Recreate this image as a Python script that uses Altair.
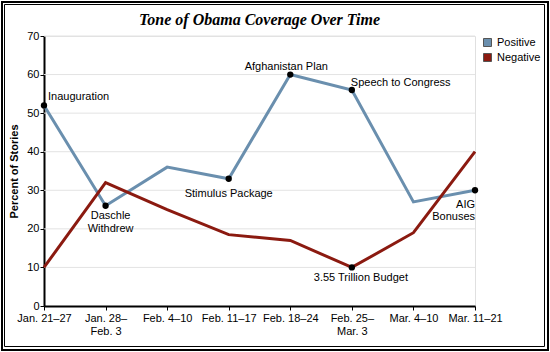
import altair as alt
import pandas as pd

weeks = ["Jan. 21–27", "Jan. 28–|Feb. 3", "Feb. 4–10", "Feb. 11–17",
         "Feb. 18–24", "Feb. 25–|Mar. 3", "Mar. 4–10", "Mar. 11–21"]
positive = [52, 26, 36, 33, 60, 56, 27, 30]
negative = [10, 32, 25, 18.5, 17, 10, 19, 40]
series_names = ["Positive", "Negative"]
series_colors = ["#6a8fae", "#8b1a10"]
y_ticks = [0, 10, 20, 30, 40, 50, 60, 70]

ann_labels = ["Inauguration", "Daschle\nWithdrew", "Stimulus Package",
              "Afghanistan Plan", "Speech to Congress", "AIG\nBonuses",
              "3.55 Trillion Budget"]
ann_week_idx = [0, 1, 3, 4, 5, 7, 5]
ann_series = ["Positive", "Positive", "Positive", "Positive", "Positive",
              "Positive", "Negative"]

rows = []
for i, w in enumerate(weeks):
    rows.append({"week": w, "series": "Positive", "value": positive[i]})
    rows.append({"week": w, "series": "Negative", "value": negative[i]})
df = pd.DataFrame(rows)

ann_rows = []
for lab, wi, s in zip(ann_labels, ann_week_idx, ann_series):
    v = positive[wi] if s == "Positive" else negative[wi]
    ann_rows.append({"week": weeks[wi], "value": v, "label": lab})
ann = pd.DataFrame(ann_rows)

grid_df = pd.DataFrame({"value": y_ticks[1:]})

FONT = "Liberation Sans"

x_enc = alt.X("week:N", sort=weeks,
              scale=alt.Scale(type="point", padding=0, domain=weeks),
              axis=alt.Axis(title=None, labelAngle=0,
                            labelExpr="split(datum.label, '|')",
                            labelLineHeight=13, labelPadding=2,
                            labelBaseline="top",
                            grid=False, tickSize=4))
y_enc = alt.Y("value:Q",
              scale=alt.Scale(domain=[0, 70], nice=False),
              axis=alt.Axis(title="Percent of Stories", values=y_ticks,
                            tickSize=4, labelPadding=1, titlePadding=7,
                            titleFontWeight="bold", titleFontSize=11,
                            grid=False))

grid = alt.Chart(grid_df).mark_rule(color="#e3e3e3", strokeWidth=1).encode(y=y_enc)

line_layers = []
for name, col in zip(series_names, series_colors):
    line_layers.append(
        alt.Chart(df).transform_filter(alt.datum.series == name)
        .mark_line(strokeWidth=3, color=col)
        .encode(x=x_enc, y=y_enc)
    )

legend_marks = alt.Chart(df).transform_filter("false").mark_square(
    size=64, filled=True, opacity=1).encode(
    x=x_enc, y=y_enc,
    color=alt.Color("series:N", sort=series_names,
                    scale=alt.Scale(domain=series_names, range=series_colors),
                    legend=alt.Legend(title=None, orient="none",
                                      legendX=438, legendY=1, padding=0,
                                      symbolType="square", symbolSize=64,
                                      symbolOpacity=1,
                                      symbolStrokeColor="#555555",
                                      symbolStrokeWidth=1, labelOffset=4,
                                      rowPadding=2, labelFontSize=11,
                                      labelFont=FONT, labelColor="black")),
)

points = alt.Chart(ann).mark_circle(size=40, color="black", opacity=1).encode(
    x=x_enc, y=y_enc)

styles = {
    "Inauguration": dict(align="left", dx=4, dy=-8),
    "Daschle\nWithdrew": dict(align="center", dx=5, dy=10, lineHeight=13),
    "Stimulus Package": dict(align="center", dx=0, dy=15),
    "Afghanistan Plan": dict(align="center", dx=-4, dy=-8),
    "Speech to Congress": dict(align="left", dx=-1, dy=-7),
    "AIG\nBonuses": dict(align="right", dx=0, dy=15, lineHeight=12),
    "3.55 Trillion Budget": dict(align="center", dx=9, dy=11),
}

text_layers = []
for lab in ann_labels:
    st = styles[lab]
    t = alt.Chart(ann).transform_filter(
        alt.datum.label == lab
    ).mark_text(baseline="middle", font=FONT, fontSize=11, color="black",
                lineBreak="\n", **st).encode(
        x=x_enc, y=y_enc, text="label:N")
    text_layers.append(t)

frame_data = alt.Data(values=[{"k": 1}])
outer = alt.Chart(frame_data).mark_rect(fill="transparent", stroke="black", strokeWidth=2).encode(
    x=alt.value(-42), x2=alt.value(504), y=alt.value(-34), y2=alt.value(314))
inner = alt.Chart(frame_data).mark_rect(fill="transparent", stroke="black", strokeWidth=1).encode(
    x=alt.value(-39.5), x2=alt.value(500.5), y=alt.value(-31.5), y2=alt.value(310.5))

chart = alt.layer(outer, inner, grid, *line_layers, legend_marks, points, *text_layers).properties(
    width=431, height=270,
    background="white",
    title=alt.TitleParams("Tone of Obama Coverage Over Time", font="Liberation Serif",
                          fontSize=16, fontWeight="bold", fontStyle="italic",
                          color="black", anchor="middle", offset=-27),
    padding={"left": 44, "top": 36, "right": 75, "bottom": 46},
    autosize=alt.AutoSizeParams(type="none"),
).configure_view(stroke="#e0e0e0", strokeWidth=1).configure_axis(
    domainColor="black", domainWidth=2, tickColor="black", tickWidth=1,
    labelFont=FONT, labelFontSize=11, labelColor="black",
    titleFont=FONT, titleColor="black",
)

chart.save("out.html", embed_options={"renderer": "svg", "actions": False})
